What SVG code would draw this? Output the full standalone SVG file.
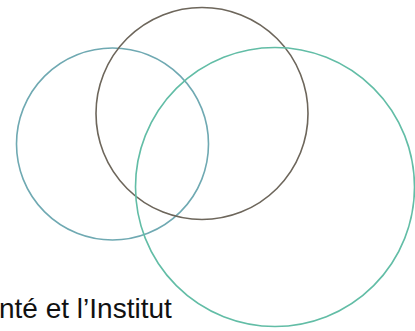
<svg xmlns="http://www.w3.org/2000/svg" width="415" height="331" viewBox="0 0 415 331">
<style>
.c{fill:none;stroke-width:1.6}
.t{font-family:"Liberation Sans",Arial,sans-serif;font-size:28px;fill:#111}
</style>
<rect width="415" height="331" fill="#fff"/>
<g id="circle-left"><circle class="c" cx="112.5" cy="144" r="96" stroke="#6fa9b2"/></g>
<g id="circle-top"><circle class="c" cx="202" cy="113.5" r="106" stroke="#6d665b"/></g>
<g id="circle-right"><circle class="c" cx="275" cy="187" r="139.5" stroke="#62bda6"/></g>
<g id="label"><text class="t" x="-1" y="318">nté et l’Institut</text></g>
</svg>
